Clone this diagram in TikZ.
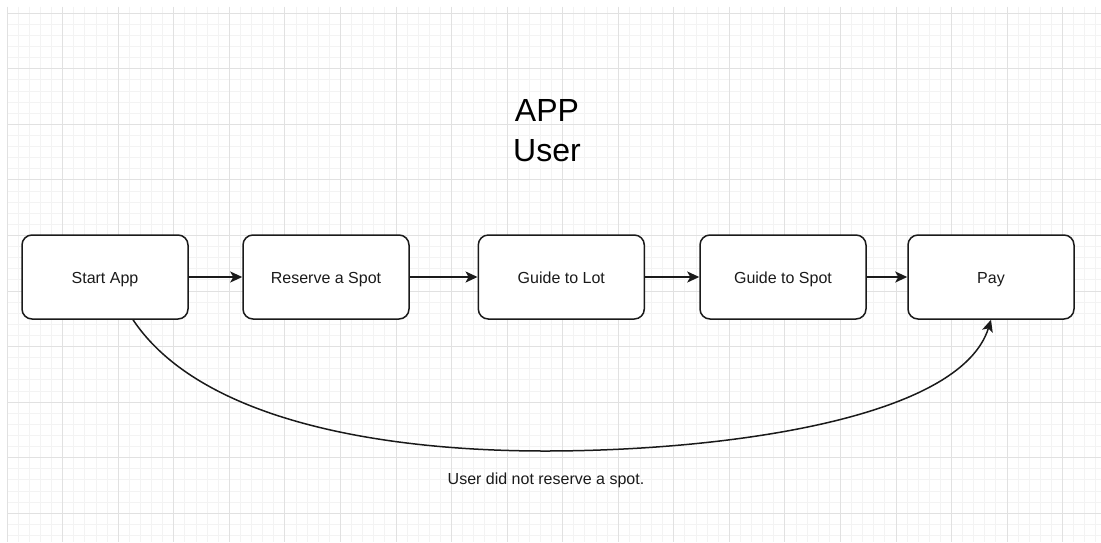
\documentclass[tikz,border=0pt]{standalone}
\usepackage{fontspec}
\setmainfont{Liberation Sans}
\usepackage{tikz}
\usetikzlibrary{arrows.meta,positioning}
\definecolor{gridminor}{HTML}{F3F3F3}
\definecolor{gridmajor}{HTML}{E1E1E1}
\definecolor{edge}{HTML}{1A1A1A}

\begin{document}
\begin{tikzpicture}[
        x=1pt, y=-1pt,
        box/.style={rectangle, draw=edge, fill=white, line width=1.5pt, rounded corners=10pt,
                    minimum width=166pt, minimum height=84pt, text height=12pt, text depth=0pt,
                    text=edge, font=\fontsize{16}{19}\selectfont},
        title/.style={text=black, font=\fontsize{32}{40}\selectfont, anchor=base},
        note/.style={text=edge, font=\fontsize{16}{19}\selectfont, anchor=base},
        line/.style={draw=edge, line width=1.5pt, -{Stealth[length=12pt, width=11pt, inset=3pt]}},
        minorline/.style={draw=gridminor, line width=1pt},
        majorline/.style={draw=gridmajor, line width=1pt}
    ]
    \useasboundingbox (0,0) rectangle (1101,542);

    % Grid
    \foreach \i in {0,...,98}
        \draw [minorline] (7.2+11.11*\i, 6.7) -- (7.2+11.11*\i, 542);
    \foreach \j in {1,...,48}
        \draw [minorline] (7.2, 2.2+11.11*\j) -- (1101, 2.2+11.11*\j);
    \foreach \i in {0,...,19}
        \draw [majorline] (7.2+55.55*\i, 6.7) -- (7.2+55.55*\i, 542);
    \foreach \j in {0,...,9}
        \draw [majorline] (7.2, 13.3+55.55*\j) -- (1101, 13.3+55.55*\j);

    \node [box] (start) at (105,277) {Start App};
    \node [box, right=53.5pt of start] (reserve) {Reserve a Spot};
    \node [box, right=67.8pt of reserve] (lot) {Guide to Lot};
    \node [box, right=54.2pt of lot] (spot) {Guide to Spot};
    \node [box, right=40.5pt of spot] (pay) {Pay};

    \draw [line] (start) -- (reserve);
    \draw [line] (reserve) -- (lot);
    \draw [line] (lot) -- (spot);
    \draw [line] (spot) -- (pay);

    % Skip straight to paying
    \coordinate (dip) at (545,451);
    \draw [line] ([xshift=28pt]start.south) .. controls (200,420) and (380,451) .. (dip)
                 .. controls (720,451) and (960,420) .. (pay.south);

    % Labels
    \node [title] (app) at (547,121.7) {APP};
    \node [title] (user) at (547,161.7) {User};
    \node [note] (skip) at (546,484.3) {User did not reserve a spot.};
\end{tikzpicture}
\end{document}
